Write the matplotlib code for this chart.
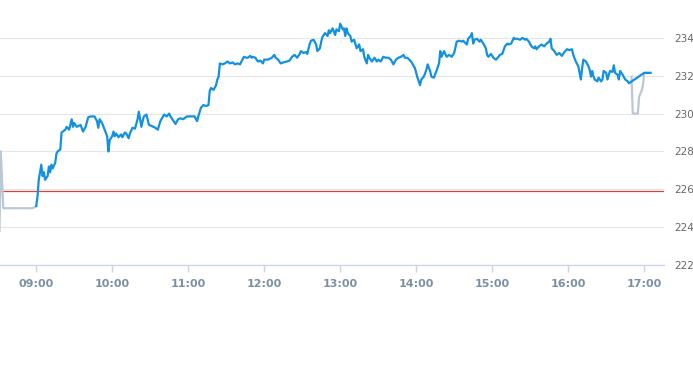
import matplotlib
matplotlib.use("Agg")
import matplotlib.pyplot as plt
import matplotlib.dates as mdates
import pandas as pd

DAY = "2024-01-02 "

# pre-market (gray)
pre_times = ["08:31", "08:32", "08:34", "08:57", "09:00"]
pre_prices = [223.8, 228.0, 225.0, 225.0, 225.1]

# regular session (blue)
times = [
    "09:00", "09:01", "09:02", "09:04", "09:05", "09:06", "09:07", "09:09", "09:10", "09:11",
    "09:12", "09:13", "09:15", "09:16", "09:17", "09:19", "09:20", "09:21", "09:23", "09:24",
    "09:26", "09:28", "09:29", "09:30", "09:32", "09:35", "09:37", "09:39", "09:41", "09:43",
    "09:46", "09:48", "09:49", "09:50", "09:52", "09:54", "09:56", "09:57", "09:58", "10:00",
    "10:01", "10:02", "10:03", "10:05", "10:07", "10:08", "10:10", "10:11", "10:13", "10:14",
    "10:16", "10:18", "10:20", "10:21", "10:23", "10:24", "10:25", "10:27", "10:29", "10:31",
    "10:34", "10:36", "10:38", "10:41", "10:43", "10:45", "10:46", "10:48", "10:50", "10:52",
    "10:54", "10:56", "10:57", "10:59", "11:03", "11:05", "11:07", "11:08", "11:10", "11:12",
    "11:14", "11:16", "11:17", "11:18", "11:20", "11:22", "11:23", "11:24", "11:25", "11:27",
    "11:29", "11:31", "11:33", "11:35", "11:37", "11:39", "11:41", "11:42", "11:44", "11:46",
    "11:47", "11:49", "11:50", "11:51", "11:53", "11:55", "11:57", "11:59", "12:00", "12:03",
    "12:06", "12:08", "12:09", "12:11", "12:13", "12:15", "12:18", "12:20", "12:22", "12:24",
    "12:26", "12:28", "12:29", "12:31", "12:33", "12:34", "12:36", "12:37", "12:39", "12:41",
    "12:42", "12:44", "12:45", "12:46", "12:48", "12:50", "12:51", "12:52", "12:54", "12:56",
    "12:57", "12:59", "13:00", "13:02", "13:03", "13:04", "13:05", "13:06", "13:08", "13:09",
    "13:11", "13:13", "13:15", "13:16", "13:18", "13:19", "13:21", "13:22", "13:23", "13:25",
    "13:27", "13:29", "13:30", "13:32", "13:34", "13:36", "13:38", "13:40", "13:42", "13:44",
    "13:46", "13:48", "13:50", "13:51", "13:53", "13:56", "13:59", "14:01", "14:03", "14:04",
    "14:06", "14:08", "14:09", "14:11", "14:12", "14:14", "14:16", "14:18", "14:19", "14:20",
    "14:22", "14:24", "14:26", "14:28", "14:30", "14:32", "14:34", "14:36", "14:37", "14:40",
    "14:41", "14:43", "14:44", "14:45", "14:46", "14:48", "14:50", "14:51", "14:53", "14:55",
    "14:56", "14:57", "14:59", "15:01", "15:03", "15:05", "15:06", "15:08", "15:10", "15:12",
    "15:13", "15:15", "15:17", "15:18", "15:20", "15:22", "15:24", "15:26", "15:27", "15:29",
    "15:31", "15:33", "15:34", "15:35", "15:37", "15:39", "15:41", "15:43", "15:45", "15:46",
    "15:47", "15:49", "15:51", "15:53", "15:55", "15:57", "15:59", "16:01", "16:03", "16:04",
    "16:06", "16:08", "16:09", "16:10", "16:11", "16:12", "16:14", "16:16", "16:17", "16:18",
    "16:19", "16:20", "16:21", "16:23", "16:24", "16:26", "16:27", "16:28", "16:30", "16:31",
    "16:33", "16:35", "16:36", "16:37", "16:39", "16:40", "16:41", "16:43", "16:45", "16:47",
    "16:48", "17:00", "17:05",
]
prices = [
    225.12, 225.6, 226.5, 227.3, 226.7, 226.9, 226.5, 226.7, 227.2, 226.9,
    227.3, 227.1, 227.4, 227.9, 228.0, 228.1, 229.0, 229.05, 229.15, 229.3,
    229.15, 229.7, 229.3, 229.5, 229.3, 229.4, 229.05, 229.3, 229.8, 229.85,
    229.85, 229.6, 229.25, 229.7, 229.5, 229.15, 228.8, 228.0, 228.6, 228.8,
    229.05, 228.8, 228.95, 228.75, 228.9, 228.75, 229.0, 228.95, 228.7, 228.95,
    229.25, 229.2, 229.7, 230.1, 229.3, 229.6, 229.85, 229.95, 229.4, 229.35,
    229.25, 229.15, 229.6, 229.95, 229.85, 230.0, 229.85, 229.65, 229.45, 229.7,
    229.75, 229.7, 229.75, 229.85, 229.85, 229.85, 229.6, 229.85, 230.3, 230.45,
    230.4, 230.45, 231.2, 231.35, 231.25, 231.5, 231.8, 231.95, 232.65, 232.6,
    232.65, 232.75, 232.65, 232.7, 232.6, 232.65, 232.6, 232.75, 233.0, 232.95,
    232.95, 233.05, 232.95, 233.0, 232.95, 232.75, 232.8, 232.65, 232.85, 232.85,
    232.95, 233.1, 232.95, 232.85, 232.65, 232.7, 232.75, 232.8, 233.0, 233.1,
    232.95, 233.15, 233.3, 233.2, 233.25, 233.15, 233.7, 233.85, 233.9, 233.65,
    233.3, 233.45, 233.8, 234.05, 234.25, 234.1, 234.4, 234.25, 234.5, 234.15,
    234.45, 234.35, 234.75, 234.45, 234.5, 234.1, 234.5, 234.25, 234.1, 233.8,
    233.9, 233.45, 233.65, 233.3, 233.4, 233.0, 232.65, 233.1, 232.95, 232.75,
    232.95, 232.75, 232.85, 232.75, 233.0, 232.95, 232.95, 232.85, 232.6, 232.85,
    232.95, 233.0, 233.1, 232.95, 232.95, 232.75, 232.4, 231.9, 231.5, 231.8,
    231.95, 232.3, 232.6, 232.25, 231.95, 231.9, 232.25, 232.65, 233.3, 233.0,
    233.3, 233.0, 233.1, 233.0, 233.2, 233.8, 233.85, 233.8, 233.85, 233.65,
    233.95, 234.1, 234.25, 233.7, 233.9, 233.95, 233.8, 233.9, 233.7, 233.45,
    233.1, 233.0, 233.15, 232.95, 232.85, 233.0, 233.1, 233.15, 233.55, 233.7,
    233.65, 233.7, 234.0, 233.95, 233.95, 233.9, 234.0, 233.9, 233.95, 233.8,
    233.55, 233.45, 233.55, 233.4, 233.55, 233.65, 233.55, 233.7, 233.8, 233.95,
    233.45, 233.3, 233.1, 233.2, 233.05, 233.25, 233.4, 233.35, 233.4, 233.1,
    232.75, 232.5, 232.15, 231.8, 232.4, 232.85, 232.75, 232.5, 232.3, 231.95,
    232.25, 231.95, 231.8, 231.7, 231.9, 231.7, 231.8, 232.25, 232.15, 231.8,
    232.25, 232.2, 232.55, 232.15, 232.05, 231.8, 232.25, 232.05, 231.8, 231.7,
    231.6, 232.15, 232.15,
]

# after-hours (gray)
post_times = ["16:50", "16:51", "16:55", "16:56", "16:58", "16:59", "17:00", "17:05"]
post_prices = [231.95, 230.0, 230.0, 230.9, 231.2, 231.5, 232.15, 232.15]

prev_close = 225.93
y_ticks = [222, 224, 226, 228, 230, 232, 234]


def to_dt(lst):
    return pd.to_datetime([DAY + t for t in lst])


fig = plt.figure(figsize=(6.93, 3.65), dpi=100)
ax = fig.add_axes([0, 100 / 365, 663.5 / 693, 265 / 365])

gray = "#b9c8d4"
blue = "#1291e0"

ax.plot(to_dt(pre_times), pre_prices, color=gray, lw=1.6, zorder=3)
ax.plot(to_dt(post_times), post_prices, color=gray, lw=1.6, zorder=3)
ax.plot(to_dt(times), prices, color=blue, lw=1.6, zorder=4)
ax.axhline(prev_close, color="#d9453d", lw=0.9, zorder=2)

ax.set_xlim(pd.Timestamp(DAY + "08:31:24"), pd.Timestamp(DAY + "17:15:15"))
ax.set_ylim(222, 236)

ax.xaxis.set_major_locator(mdates.HourLocator(byhour=range(9, 18)))
ax.xaxis.set_major_formatter(mdates.DateFormatter("%H:%M"))
ax.set_yticks(y_ticks)

ax.yaxis.tick_right()
ax.grid(axis="y", color="#e6e6e6", lw=0.8)
ax.set_axisbelow(True)
for s in ["top", "left", "right"]:
    ax.spines[s].set_visible(False)
ax.spines["bottom"].set_color("#ccd6eb")
ax.spines["bottom"].set_linewidth(1.0)

ax.tick_params(axis="x", colors="#ccd6eb", length=5, width=1, pad=5,
               labelsize=8, labelcolor="#7d8fa3")
ax.tick_params(axis="y", length=0, pad=8, labelsize=7.5, labelcolor="#666666")
for lbl in ax.get_xticklabels():
    lbl.set_fontweight("bold")

fig.savefig("out.png", dpi=100)
